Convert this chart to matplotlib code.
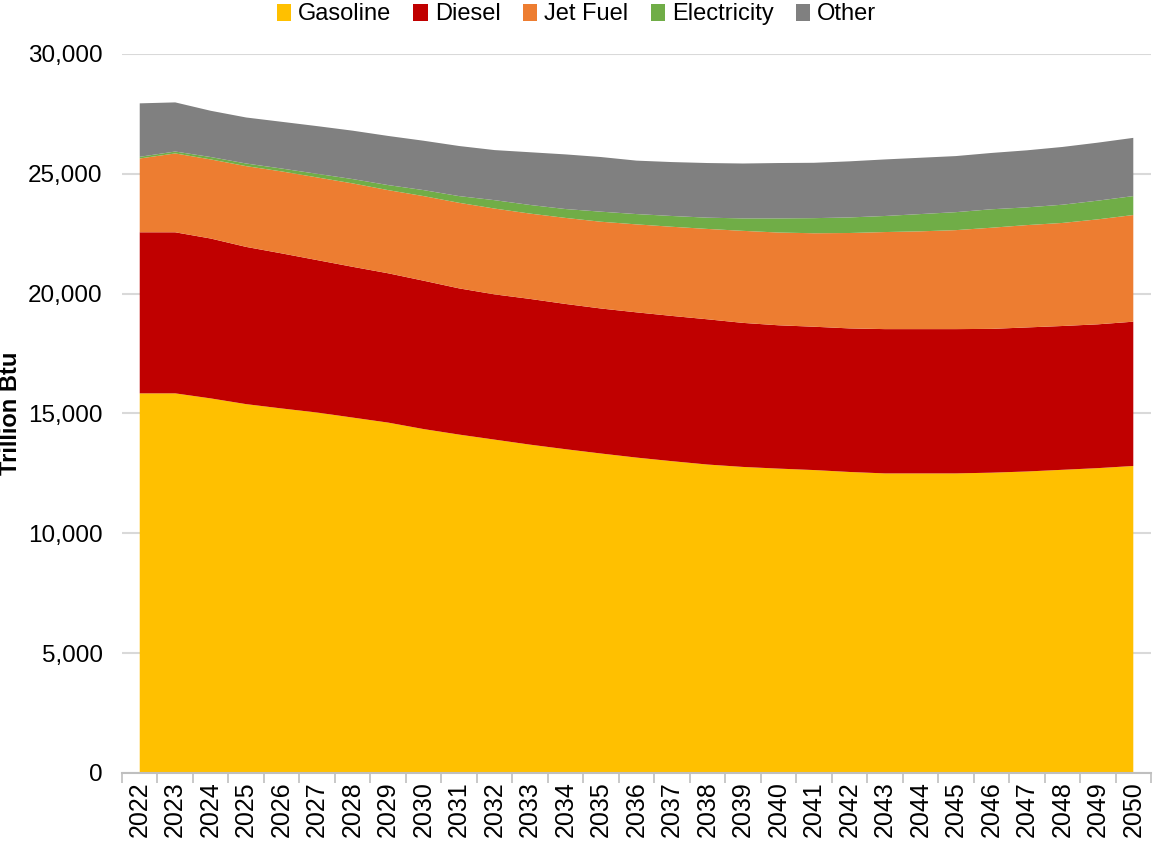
import numpy as np
import matplotlib
matplotlib.use("Agg")
import matplotlib.pyplot as plt
from matplotlib.ticker import FuncFormatter, FixedLocator

plt.rcParams['font.family'] = ['Liberation Sans', 'DejaVu Sans']

years = list(range(2022, 2051))

# trillion Btu
gasoline = [15840, 15840, 15630, 15390, 15210, 15040, 14830, 14620, 14350, 14120,
            13910, 13700, 13510, 13330, 13160, 13010, 12870, 12770, 12700, 12640,
            12560, 12500, 12500, 12500, 12530, 12580, 12650, 12720, 12810]
diesel = [6720, 6720, 6670, 6560, 6470, 6360, 6290, 6230, 6190, 6100,
          6060, 6080, 6060, 6050, 6060, 6060, 6060, 6010, 5980, 5980,
          5990, 6020, 6020, 6020, 6000, 6010, 6000, 6000, 6020]
jet_fuel = [3080, 3290, 3300, 3370, 3420, 3450, 3480, 3470, 3530, 3570,
            3580, 3560, 3590, 3620, 3670, 3720, 3770, 3840, 3870, 3900,
            3980, 4050, 4080, 4130, 4220, 4270, 4300, 4380, 4450]
electricity = [70, 80, 100, 110, 120, 150, 180, 210, 250, 280,
               350, 360, 370, 420, 430, 450, 470, 520, 590, 630,
               650, 670, 720, 750, 770, 740, 760, 780, 790]
other = [2230, 2050, 1930, 1920, 1950, 1990, 2020, 2050, 2060, 2090,
         2090, 2200, 2280, 2280, 2230, 2250, 2280, 2290, 2310, 2310,
         2340, 2360, 2350, 2340, 2350, 2380, 2410, 2420, 2430]

labels = ["Gasoline", "Diesel", "Jet Fuel", "Electricity", "Other"]
colors = ["#FFC000", "#C00000", "#ED7D31", "#70AD47", "#808080"]

fig = plt.figure(figsize=(11.53, 8.46), dpi=100)
ax = fig.add_axes([0.1058, 0.0863, 0.8925, 0.8499])

x = np.arange(len(years))
polys = ax.stackplot(x, gasoline, diesel, jet_fuel, electricity, other,
                     colors=colors, labels=labels, linewidth=0, zorder=2)

ax.set_xlim(-0.5, len(years) - 0.5)
ax.set_ylim(0, 30000)
ax.set_yticks(np.arange(0, 30001, 5000))
ax.yaxis.set_major_formatter(FuncFormatter(lambda v, p: f"{int(v):,}"))
ax.grid(axis='y', color='#d9d9d9', linewidth=1.5, zorder=0)
ax.set_axisbelow(True)

# tick marks between categories, labels at the centres
ax.xaxis.set_major_locator(FixedLocator(np.arange(-0.5, len(years), 1.0)))
ax.xaxis.set_minor_locator(FixedLocator(x))
ax.set_xticklabels([])
ax.set_xticklabels([str(y) for y in years], minor=True, rotation=90)
ax.tick_params(axis='x', which='major', length=7, width=1.2, color='#bfbfbf')
ax.tick_params(axis='x', which='minor', length=0, pad=6, labelsize=18)
ax.tick_params(axis='y', length=0, pad=14, labelsize=17.5)

for s in ['top', 'right', 'left']:
    ax.spines[s].set_visible(False)
ax.spines['bottom'].set_color('#bfbfbf')
ax.spines['bottom'].set_linewidth(1.5)

fig.text(11 / 1153, 1 - 413 / 846, "Trillion Btu", rotation=90, ha='center', va='center',
         fontsize=17, fontweight='bold')

fig.legend(loc='upper center', bbox_to_anchor=(0.5, 1.021), ncol=5, frameon=False,
           fontsize=17, handlelength=0.6, handleheight=0.75, handletextpad=0.3,
           columnspacing=0.95)

fig.savefig("out.png", dpi=100)
